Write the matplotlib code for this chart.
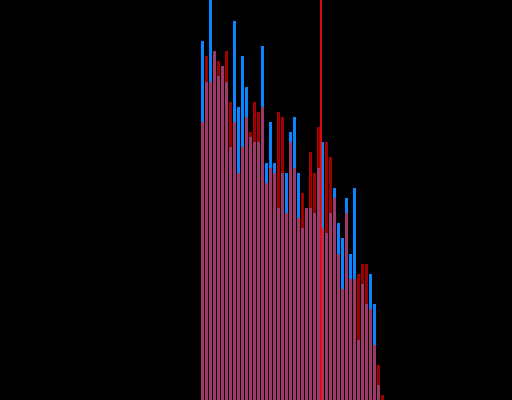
import matplotlib
matplotlib.use("Agg")
import matplotlib.pyplot as plt
import numpy as np

# two overlapping distributions, 46 bins
blue = [359, 318, 420, 349, 324, 334, 318, 253, 379, 293, 344, 313,
        263, 258, 258, 354, 237, 278, 237, 192, 227, 227, 268, 283,
        227, 172, 192, 192, 187, 232, 258, 167, 187, 212, 177, 162,
        202, 146, 212, 60, 116, 96, 126, 96, 15, 0]
red = [278, 344, 318, 349, 339, 334, 349, 298, 278, 227, 253, 283,
       268, 298, 288, 293, 217, 232, 227, 288, 283, 187, 258, 232,
       182, 207, 192, 248, 227, 273, 172, 258, 243, 202, 146, 111,
       187, 121, 121, 126, 136, 136, 91, 55, 35, 5]
marker_x = 29.875

blue = np.array(blue)
red = np.array(red)
both = np.minimum(blue, red)
x = np.arange(len(blue))

fig = plt.figure(figsize=(5.12, 4.0), dpi=100, facecolor='black')
ax = fig.add_axes([0, 0, 1, 1])
ax.set_facecolor('black')

ax.bar(x, blue, width=0.75, align='edge', color='#0a84ff', linewidth=0)
ax.bar(x, red, width=0.75, align='edge', color='#a00000', linewidth=0)
ax.bar(x, both, width=0.75, align='edge', color='#9e3868', linewidth=0)
ax.axvline(marker_x, color='#ff1010', lw=1.2)

ax.set_xlim(-50.25, 77.75)
ax.set_ylim(0, 400)
ax.axis('off')

fig.savefig('out.png', dpi=100, facecolor='black')
